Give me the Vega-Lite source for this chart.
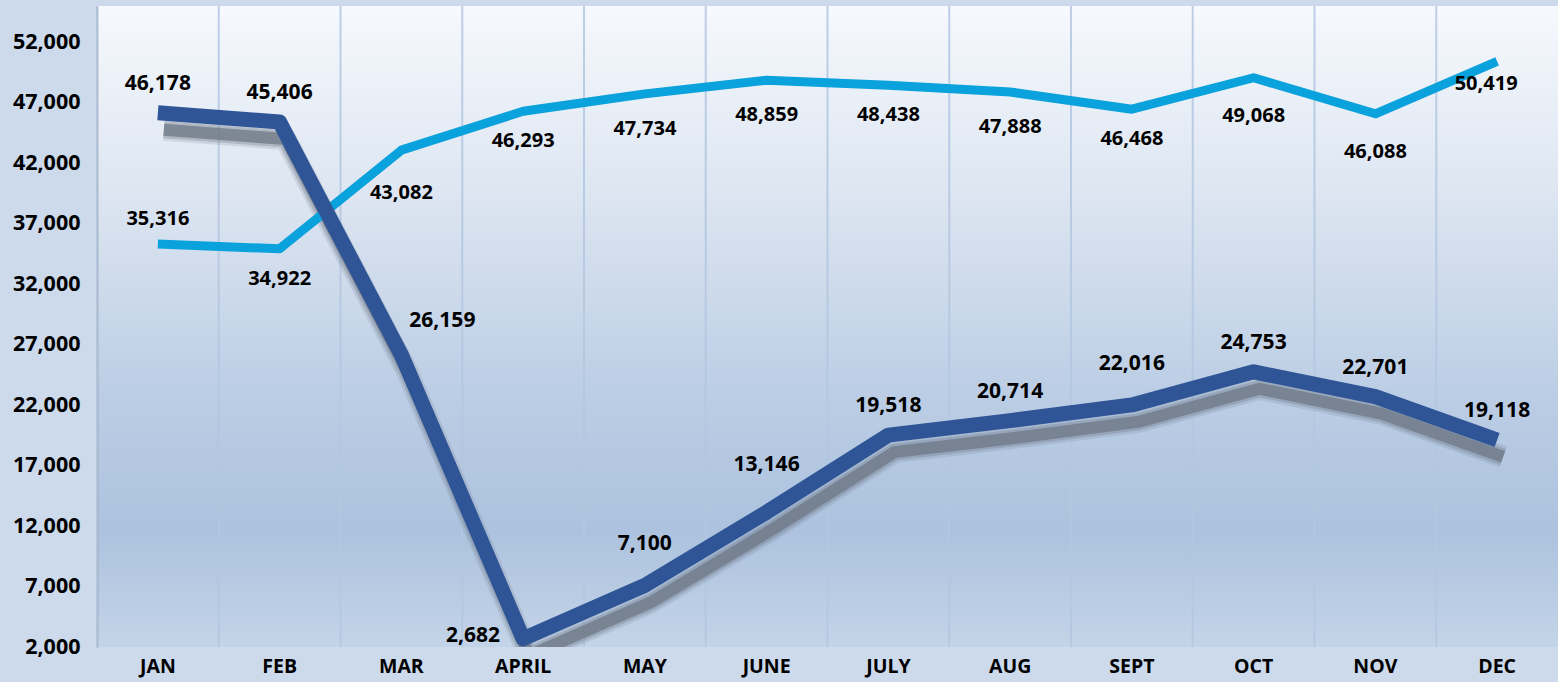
{
  "$schema": "https://vega.github.io/schema/vega-lite/v6.json",
  "width": 1461,
  "height": 641,
  "autosize": {"type": "none"},
  "padding": {"left": 97, "top": 6, "right": 0, "bottom": 35},
  "background": "#ccdaeb",
  "config": {
    "view": {
      "stroke": null,
      "fill": {
        "gradient": "linear", "x1": 0, "y1": 0, "x2": 0, "y2": 1,
        "stops": [
          {"offset": 0, "color": "#f6f9fd"},
          {"offset": 0.3, "color": "#dce5f1"},
          {"offset": 0.6, "color": "#bccee5"},
          {"offset": 0.82, "color": "#acc2de"},
          {"offset": 1, "color": "#c4d4e8"}
        ]
      }
    },
    "font": "Open Sans",
    "text": {"font": "Open Sans", "fontWeight": "bold", "fontSize": 21, "color": "#000000", "baseline": "middle", "align": "center"}
  },
  "data": {
    "values": [
      {"month": "JAN", "series": "2019", "value": 35316},
      {"month": "FEB", "series": "2019", "value": 34922},
      {"month": "MAR", "series": "2019", "value": 43082},
      {"month": "APRIL", "series": "2019", "value": 46293},
      {"month": "MAY", "series": "2019", "value": 47734},
      {"month": "JUNE", "series": "2019", "value": 48859},
      {"month": "JULY", "series": "2019", "value": 48438},
      {"month": "AUG", "series": "2019", "value": 47888},
      {"month": "SEPT", "series": "2019", "value": 46468},
      {"month": "OCT", "series": "2019", "value": 49068},
      {"month": "NOV", "series": "2019", "value": 46088},
      {"month": "DEC", "series": "2019", "value": 50419},
      {"month": "JAN", "series": "2020", "value": 46178},
      {"month": "FEB", "series": "2020", "value": 45406},
      {"month": "MAR", "series": "2020", "value": 26159},
      {"month": "APRIL", "series": "2020", "value": 2682},
      {"month": "MAY", "series": "2020", "value": 7100},
      {"month": "JUNE", "series": "2020", "value": 13146},
      {"month": "JULY", "series": "2020", "value": 19518},
      {"month": "AUG", "series": "2020", "value": 20714},
      {"month": "SEPT", "series": "2020", "value": 22016},
      {"month": "OCT", "series": "2020", "value": 24753},
      {"month": "NOV", "series": "2020", "value": 22701},
      {"month": "DEC", "series": "2020", "value": 19118}
    ]
  },
  "encoding": {
    "x": {
      "field": "month", "type": "ordinal",
      "sort": ["JAN","FEB","MAR","APRIL","MAY","JUNE","JULY","AUG","SEPT","OCT","NOV","DEC"],
      "scale": {"type": "band", "paddingInner": 0, "paddingOuter": 0},
      "axis": {
        "title": null, "domain": false, "ticks": false, "grid": false,
        "labelAngle": 0, "labelFont": "Open Sans", "labelFontWeight": "bold",
        "labelFontSize": 19.5, "labelColor": "#000000", "labelPadding": 10
      }
    },
    "y": {
      "field": "value", "type": "quantitative",
      "scale": {"domain": [2000, 55000], "nice": false, "zero": false},
      "axis": {
        "title": null, "values": [2000,7000,12000,17000,22000,27000,32000,37000,42000,47000,52000],
        "format": ",d", "grid": false, "ticks": false, "domain": true,
        "domainColor": "#8c8c8c", "domainWidth": 1.5,
        "labelFont": "Open Sans", "labelFontWeight": "bold", "labelFontSize": 21.5,
        "labelColor": "#000000", "labelPadding": 17
      }
    }
  },
  "layer": [
    {
      "transform": [{"filter": "datum.series === '2019'"}],
      "mark": {"type": "rule", "color": "#b3c7e1", "strokeWidth": 2, "opacity": 0.85},
      "encoding": {
        "x": {"field": "month", "type": "ordinal", "bandPosition": 0,
              "sort": ["JAN","FEB","MAR","APRIL","MAY","JUNE","JULY","AUG","SEPT","OCT","NOV","DEC"]},
        "y": null
      }
    },
    {
      "transform": [{"filter": "datum.series === '2020'"}],
      "mark": {"type": "line", "color": "#6a7583", "strokeWidth": 22, "opacity": 0.18, "xOffset": 6, "yOffset": 17, "strokeJoin": "round", "strokeCap": "butt", "clip": true}
    },
    {
      "transform": [{"filter": "datum.series === '2020'"}],
      "mark": {"type": "line", "color": "#6a7583", "strokeWidth": 17, "opacity": 0.3, "xOffset": 6, "yOffset": 17, "strokeJoin": "round", "strokeCap": "butt", "clip": true}
    },
    {
      "transform": [{"filter": "datum.series === '2020'"}],
      "mark": {"type": "line", "color": "#6d7886", "strokeWidth": 12, "opacity": 0.75, "xOffset": 6, "yOffset": 17, "strokeJoin": "round", "strokeCap": "butt", "clip": true}
    },
    {
      "transform": [{"filter": "datum.series === '2019'"}],
      "mark": {"type": "line", "color": "#0aa2dc", "strokeWidth": 9, "strokeJoin": "round", "strokeCap": "butt"}
    },
    {
      "transform": [{"filter": "datum.series === '2020'"}],
      "mark": {"type": "line", "color": "#2f5597", "strokeWidth": 15, "strokeJoin": "round", "strokeCap": "butt"}
    },
    {
      "transform": [{"filter": "datum.series === '2020'"}, {"filter": {"field": "month", "oneOf": ["JAN","FEB","JULY","AUG","OCT","NOV","DEC"]}}],
      "mark": {"type": "text", "dy": -29},
      "encoding": {"text": {"field": "value", "type": "quantitative", "format": ",d"}}
    },
    {
      "transform": [{"filter": "datum.series === '2020'"}, {"filter": {"field": "month", "oneOf": ["MAY","SEPT"]}}],
      "mark": {"type": "text", "dy": -41},
      "encoding": {"text": {"field": "value", "type": "quantitative", "format": ",d"}}
    },
    {
      "transform": [{"filter": "datum.series === '2020'"}, {"filter": {"field": "month", "oneOf": ["JUNE"]}}],
      "mark": {"type": "text", "dy": -47},
      "encoding": {"text": {"field": "value", "type": "quantitative", "format": ",d"}}
    },
    {
      "transform": [{"filter": "datum.series === '2020'"}, {"filter": {"field": "month", "oneOf": ["MAR"]}}],
      "mark": {"type": "text", "dx": 41, "dy": -34},
      "encoding": {"text": {"field": "value", "type": "quantitative", "format": ",d"}}
    },
    {
      "transform": [{"filter": "datum.series === '2020'"}, {"filter": {"field": "month", "oneOf": ["APRIL"]}}],
      "mark": {"type": "text", "dx": -50, "dy": -3},
      "encoding": {"text": {"field": "value", "type": "quantitative", "format": ",d"}}
    },
    {
      "transform": [{"filter": "datum.series === '2019'"}, {"filter": {"field": "month", "oneOf": ["FEB","APRIL","JULY","SEPT"]}}],
      "mark": {"type": "text", "dy": 30, "fontSize": 20},
      "encoding": {"text": {"field": "value", "type": "quantitative", "format": ",d"}}
    },
    {
      "transform": [{"filter": "datum.series === '2019'"}, {"filter": {"field": "month", "oneOf": ["MAY","JUNE","AUG"]}}],
      "mark": {"type": "text", "dy": 35, "fontSize": 20},
      "encoding": {"text": {"field": "value", "type": "quantitative", "format": ",d"}}
    },
    {
      "transform": [{"filter": "datum.series === '2019'"}, {"filter": {"field": "month", "oneOf": ["OCT","NOV"]}}],
      "mark": {"type": "text", "dy": 38, "fontSize": 20},
      "encoding": {"text": {"field": "value", "type": "quantitative", "format": ",d"}}
    },
    {
      "transform": [{"filter": "datum.series === '2019'"}, {"filter": {"field": "month", "oneOf": ["MAR"]}}],
      "mark": {"type": "text", "dy": 43, "fontSize": 20},
      "encoding": {"text": {"field": "value", "type": "quantitative", "format": ",d"}}
    },
    {
      "transform": [{"filter": "datum.series === '2019'"}, {"filter": {"field": "month", "oneOf": ["JAN"]}}],
      "mark": {"type": "text", "dy": -25, "fontSize": 20},
      "encoding": {"text": {"field": "value", "type": "quantitative", "format": ",d"}}
    },
    {
      "transform": [{"filter": "datum.series === '2019'"}, {"filter": {"field": "month", "oneOf": ["DEC"]}}],
      "mark": {"type": "text", "dx": -11, "dy": 23, "fontSize": 20},
      "encoding": {"text": {"field": "value", "type": "quantitative", "format": ",d"}}
    }
  ]
}
